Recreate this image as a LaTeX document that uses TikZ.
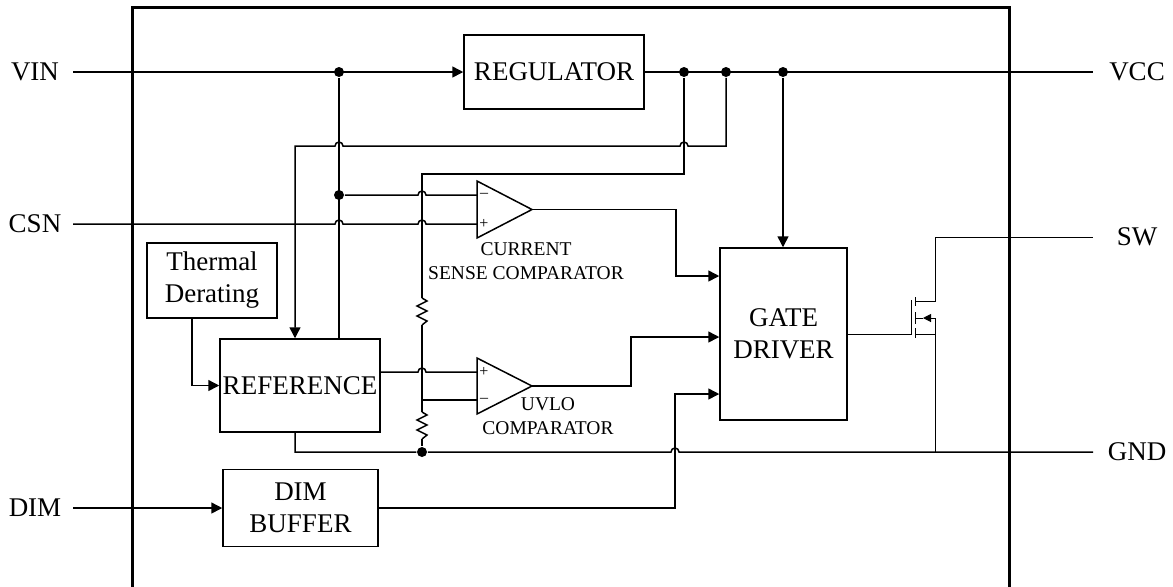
\documentclass[tikz,border=0pt]{standalone}
\usepackage{fontspec}
\setmainfont{Liberation Serif}
\usetikzlibrary{arrows.meta}

\begin{document}
\begin{tikzpicture}[x=0.5pt,y=-0.5pt,line width=0.75pt,
                    >={Triangle[length=5.5pt,width=5.5pt]},
                    font=\fontsize{13.5}{16}\selectfont]
\tikzstyle{block}=[draw,align=center,inner sep=0pt]
\tikzstyle{dot}=[circle,fill,inner sep=0pt,minimum size=5pt]
\tikzstyle{tag}=[font=\fontsize{9.75}{12}\selectfont,align=center]
\tikzstyle{sign}=[font=\fontsize{8}{8}\selectfont,inner sep=0pt]
\tikzstyle{fet}=[line width=0.5pt]
\tikzstyle{hopl}=[insert path={arc[start angle=0,end angle=180,radius=2pt]}]
\tikzstyle{hopr}=[insert path={arc[start angle=180,end angle=0,radius=2pt]}]
\tikzset{res/.pic={\draw (0,0) -- (5,3) -- (-5,8) -- (5,13) -- (-5,18) -- (5,23) -- (0,27);}}
\useasboundingbox (0,0) rectangle (1173,586);

% chip outline
\draw[line width=1.5pt] (132,595) -- (132,7) -- (1009,7) -- (1009,595);

% pins
\node (tVIN) at (35,72) {VIN};
\node (tCSN) at (35,224) {CSN};
\node (tDIM) at (35,508) {DIM};
\node (tVCC) at (1137,72) {VCC};
\node (tSW) at (1137,237) {SW};
\node (tGND) at (1137,452) {GND};
\coordinate (vin) at (73,72);
\coordinate (csn) at (73,224);
\coordinate (dim) at (73,508);
\coordinate (vcc) at (1093,72);
\coordinate (sw) at (1093,237);
\coordinate (gnd) at (1093,452);

% blocks
\node[block,minimum width=90pt,minimum height=37pt] (reg) at (554,72) {REGULATOR};
\node[block,minimum width=65pt,minimum height=37.5pt] (therm) at (212,280.5) {Thermal\\Derating};
\node[block,minimum width=80pt,minimum height=46.5pt] (ref) at (300,385.5) {REFERENCE};
\node[block,minimum width=77.5pt,minimum height=38.5pt] (buf) at (300.5,508) {DIM\\BUFFER};
\node[block,minimum width=63.5pt,minimum height=86pt] (drv) at (783.5,334) {GATE\\DRIVER};

% comparators
\coordinate (csm) at (477,195);
\coordinate (csp) at (477,224);
\coordinate (cso) at (532,209.5);
\draw (477,181) -- (cso) -- (477,238) -- cycle;
\node[sign] (s1) at (484,195) {--};
\node[sign] (s2) at (484,224) {+};
\coordinate (uvp) at (477,372);
\coordinate (uvm) at (477,400);
\coordinate (uvo) at (532,386);
\draw (477,358) -- (uvo) -- (477,414) -- cycle;
\node[sign] (s3) at (484,372) {+};
\node[sign] (s4) at (484,400) {--};
\node[tag] (lcs) at (526,261) {CURRENT\\SENSE COMPARATOR};
\node[tag] (luv) at (548,416) {UVLO\\COMPARATOR};

% junctions
\node[dot] (j1) at (339,72) {};
\node[dot] (j2) at (684,72) {};
\node[dot] (j3) at (726,72) {};
\node[dot] (j4) at (783,72) {};
\node[dot] (j5) at (339,195) {};
\node[dot] (j6) at (422,452) {};
\coordinate (c1) at (295,146);
\coordinate (c2) at (422,174);
\coordinate (c3) at (422,400);
\coordinate (rt) at (295,432);
\coordinate (t1) at (192,318);
\coordinate (k1) at (676,276);
\coordinate (k2) at (631,337);
\coordinate (k3) at (675,394);

% wiring
\draw[->] (vin) -- (reg);
\draw (reg) -- (vcc);
\draw (j1) -- (j1 |- ref.north);
\draw[->] (j3) -- (726,146) -- (688,146) [hopl] -- (343,146) [hopl] -- (c1) -- (c1 |- ref.north);
\draw (j2) -- (684,174) -- (c2) -- (422,298);
\pic at (422,298) {res};
\draw (422,325) -- (422,412);
\pic at (422,412) {res};
\draw (422,439) -- (j6);
\draw (j5) -- (418,195) [hopr] -- (csm);
\draw (csn) -- (335,224) [hopr] -- (418,224) [hopr] -- (csp);
\draw (ref.east |- uvp) -- (418,372) [hopr] -- (uvp);
\draw (c3) -- (uvm);
\draw[->] (t1) |- (ref.west);
\draw[->] (cso) -| (k1) -- (k1 -| drv.west);
\draw[->] (uvo) -| (k2) -- (k2 -| drv.west);
\draw[->] (dim) -- (buf);
\draw[->] (buf) -| (k3) -- (k3 -| drv.west);
\draw[->] (j4) -- (j4 |- drv.north);
\draw (rt) |- (j6) -- (671,452) [hopr] -- (gnd);

% output switch
\coordinate (mg) at (911,334);
\coordinate (md) at (935,301);
\coordinate (ms) at (935,334);
\draw[fet] (drv.east) -- (mg) -- (911,300);
\draw[fet] (915,297) -- (915,306) (915,312) -- (915,324) (915,328) -- (915,338);
\draw[fet] (915,301) -- (md) -- (935,237) -- (sw);
\draw[fet] (915,334) -- (ms);
\draw[fet] (935,318) -- (935,452);
\draw[fet,-{Triangle[length=4pt,width=4pt]}] (935,318) -- (923,318);
\draw[fet] (923,318) -- (915,318);
\end{tikzpicture}
\end{document}
